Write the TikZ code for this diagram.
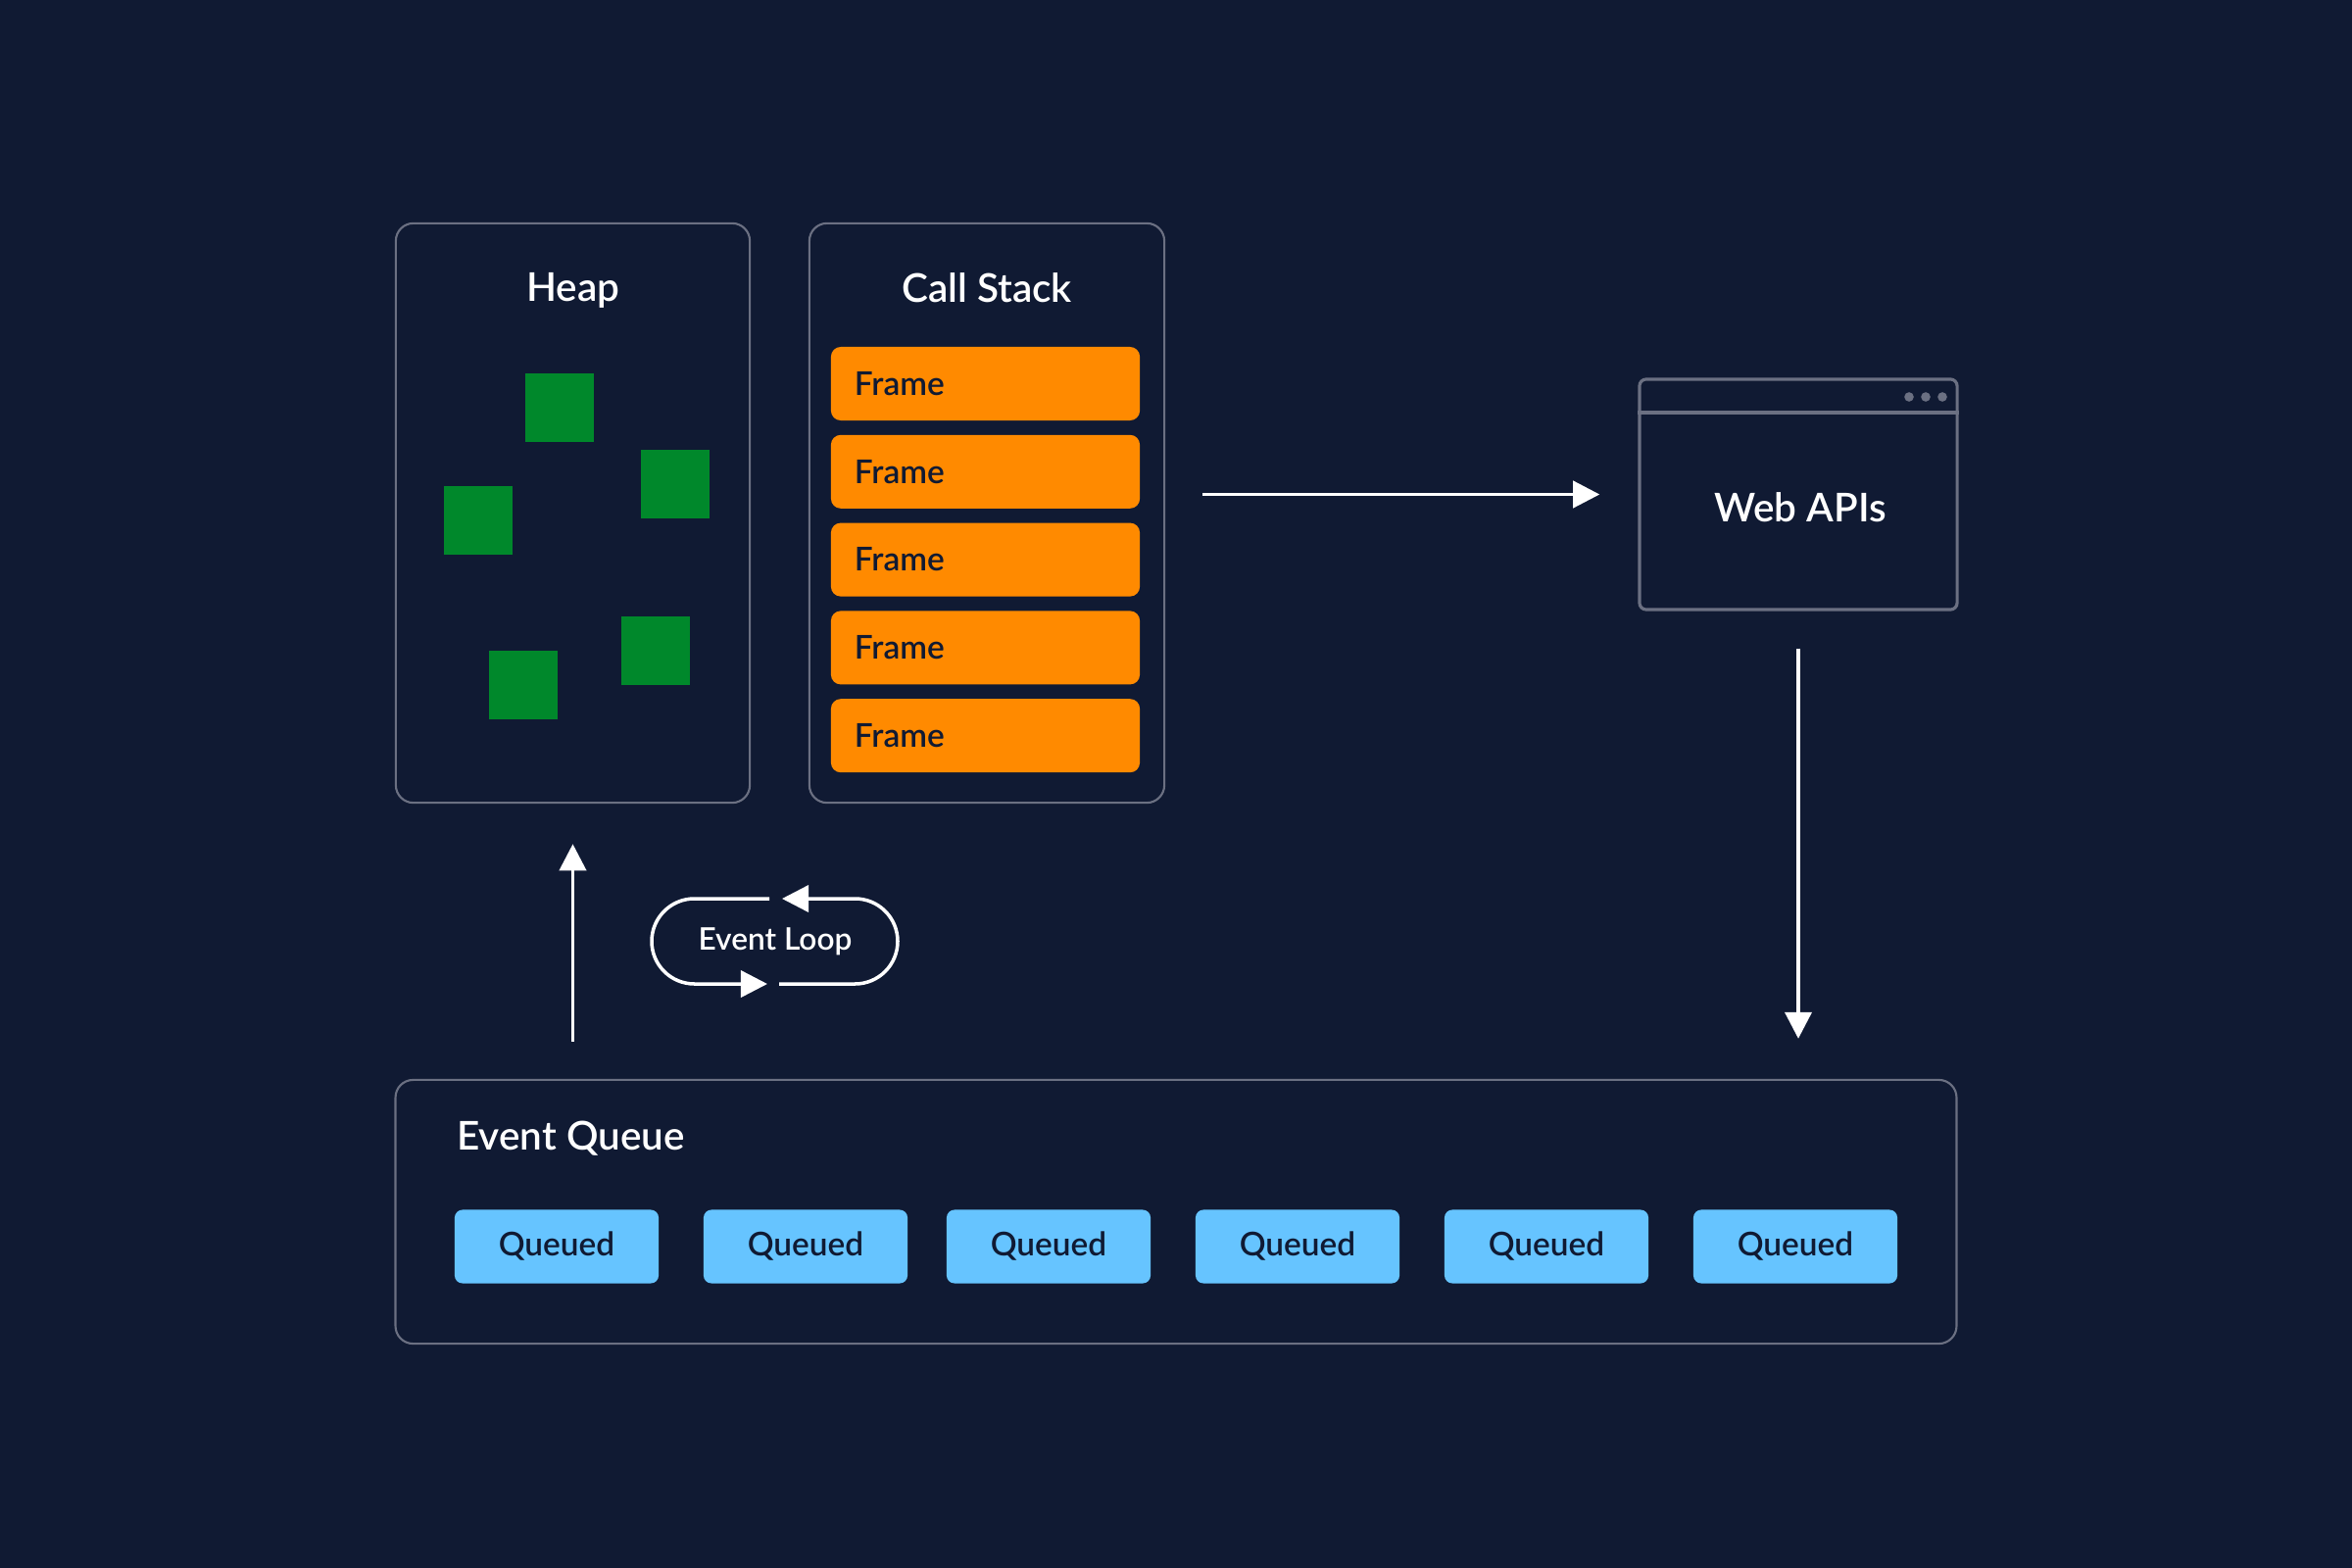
\documentclass[tikz,border=0pt]{standalone}
\usepackage{fontspec}
\IfFontExistsTF{Lato Semibold}{\setmainfont{Lato Semibold}}{%
  \IfFontExistsTF{Lato Medium}{\setmainfont{Lato Medium}}{\setmainfont{Lato}[FakeBold=1.2]}}
\usetikzlibrary{arrows.meta,positioning}
\definecolor{bgnavy}{HTML}{101A33}
\definecolor{boxgray}{HTML}{6B7082}
\definecolor{frameorange}{HTML}{FF8A00}
\definecolor{heapgreen}{HTML}{00882B}
\definecolor{queueblue}{HTML}{66C4FF}
\tikzset{
  panel/.style={draw=boxgray,line width=0.6pt,rounded corners=0.18cm},
  paneltitle/.style={text=white,font=\fontsize{11.5}{13}\selectfont},
  stackframe/.style={fill=frameorange,rounded corners=0.1cm,minimum width=3.15cm,minimum height=0.75cm,
    text width=2.67cm,inner xsep=0.24cm,align=left,text=bgnavy,font=\fontsize{9.5}{11}\selectfont},
  queued/.style={fill=queueblue,rounded corners=0.08cm,minimum width=2.08cm,minimum height=0.75cm,
    text=bgnavy,font=\fontsize{9.5}{11}\selectfont},
  blob/.style={fill=heapgreen,minimum size=0.7cm,inner sep=0pt},
  flow/.style={draw=white,line width=1.1pt,-{Triangle[length=7.7pt,width=7.7pt]}},
}

\begin{document}
\begin{tikzpicture}[x=0.01cm,y=-0.01cm]
\fill[bgnavy] (0,0) rectangle (2400,1600);
\useasboundingbox (0,0) rectangle (2400,1600);
% heap
\node[panel,minimum width=3.61cm,minimum height=5.91cm] (heap) at (584.5,523.5) {};
\node[paneltitle] (heaptitle) at (585,296) {Heap};
\foreach \bx/\by [count=\i] in {571/416,689/494,488/531,669/664,534/699}
  \node[blob] (blob\i) at (\bx,\by) {};
% call stack
\node[panel,minimum width=3.62cm,minimum height=5.91cm] (stack) at (1007,523.5) {};
\node[paneltitle] (stacktitle) at (1007,294) {Call Stack};
\foreach \i in {1,...,5}
  \node[stackframe] (frame\i) at (1005.5,{391.5+89.8*(\i-1)}) {Frame};
% web apis
\node[panel,line width=0.9pt,rounded corners=0.07cm,minimum width=3.24cm,minimum height=2.35cm] (web) at (1835,504.5) {};
\node[paneltitle] (webtitle) at (1837,518) {Web APIs};
\draw[boxgray,line width=0.9pt] (web.west |- 0,421) -- (web.east |- 0,421);
\foreach \dx in {1948,1965,1982}
  \fill[boxgray] (\dx,405) circle (0.048cm);
% event queue
\node[panel,minimum width=15.92cm,minimum height=2.69cm] (queue) at (1200,1236.5) {};
\node[paneltitle,anchor=west] (queuetitle) at (454,1162) {Event Queue};
\foreach \qx [count=\i] in {568,822,1070,1324,1578,1832}
  \node[queued] (q\i) at (\qx,1272) {Queued};
% event loop
\node[text=white,font=\fontsize{9}{10}\selectfont] (loop) at (791,960.5) {Event Loop};
\draw[white,line width=1pt,rounded corners=0.435cm,-{Triangle[length=7.7pt,width=7.7pt]}]
  (785,917) -- (665,917) -- (665,1004) -- (783,1004);
\draw[white,line width=1pt,rounded corners=0.435cm,-{Triangle[length=7.7pt,width=7.7pt]}]
  (795,1004) -- (916,1004) -- (916,917) -- (798,917);
% arrows
\draw[flow,shorten <=0.38cm,shorten >=0.39cm] (stack.east |- web.west) -- (web.west);
\draw[flow,shorten <=0.38cm,shorten >=0.41cm] (web.south) -- (web.south |- queue.north);
\draw[flow,shorten <=0.38cm,shorten >=0.41cm] (heap.south |- queue.north) -- (heap.south);
\end{tikzpicture}
\end{document}
